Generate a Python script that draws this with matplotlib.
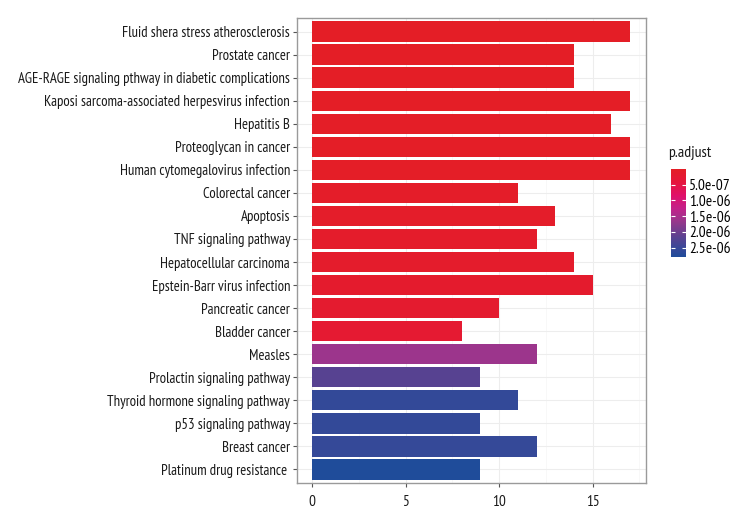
import numpy as np
import matplotlib
matplotlib.use("Agg")
import matplotlib.pyplot as plt
from matplotlib.colors import LinearSegmentedColormap, Normalize
from matplotlib.colorbar import ColorbarBase
from matplotlib import font_manager as fm

# ---------------- data ----------------
pathways = [
    "Fluid shera stress atherosclerosis",
    "Prostate cancer",
    "AGE-RAGE signaling pthway in diabetic complications",
    "Kaposi sarcoma-associated herpesvirus infection",
    "Hepatitis B",
    "Proteoglycan in cancer",
    "Human cytomegalovirus infection",
    "Colorectal cancer",
    "Apoptosis",
    "TNF signaling pathway",
    "Hepatocellular carcinoma",
    "Epstein-Barr virus infection",
    "Pancreatic cancer",
    "Bladder cancer",
    "Measles",
    "Prolactin signaling pathway",
    "Thyroid hormone signaling pathway",
    "p53 signaling pathway",
    "Breast cancer",
    "Platinum drug resistance ",
]
counts = [17, 14, 14, 17, 16, 17, 17, 11, 13, 12, 14, 15, 10, 8, 12, 9, 11, 9, 12, 9]
p_adjust = [1e-9, 5e-9, 8e-9, 1e-8, 1.5e-8, 2e-8, 3e-8, 6e-8, 8e-8, 1e-7,
            1.2e-7, 1.4e-7, 1.8e-7, 2.4e-7, 1.63e-6, 2.2e-6, 2.58e-6, 2.58e-6,
            2.55e-6, 2.8e-6]
x_ticks = [0, 5, 10, 15]
cbar_ticks = [5e-7, 1e-6, 1.5e-6, 2e-6, 2.5e-6]
cbar_labels = ["5.0e-07", "1.0e-06", "1.5e-06", "2.0e-06", "2.5e-06"]

# ---------------- fonts ----------------
avail = {f.name for f in fm.fontManager.ttflist}
prefs = ["PT Sans Narrow", "Pragati Narrow", "Roboto Condensed", "DejaVu Sans"]
fams = [f for f in prefs if f in avail]
plt.rcParams["font.family"] = fams[:1] + ["DejaVu Sans"]
FS = 10.6

# ---------------- colour scale ----------------
grad = LinearSegmentedColormap.from_list("padj", [
    (0.00, "#E41E26"),
    (0.15, "#E5163C"),
    (0.30, "#E0106A"),
    (0.45, "#C2228A"),
    (0.60, "#96388C"),
    (0.75, "#62408F"),
    (0.90, "#384898"),
    (1.00, "#1F4C9A"),
])
norm = Normalize(vmin=min(p_adjust), vmax=max(p_adjust))

# ---------------- figure ----------------
fig = plt.figure(figsize=(7.5, 5.25), dpi=100)
ax = fig.add_axes([297 / 750, 1 - 483 / 525, (646 - 297) / 750, (483 - 18) / 525])

n = len(pathways)
ypos = np.arange(n)[::-1]
ax.barh(ypos, counts, height=0.9, color=grad(norm(np.array(p_adjust))),
        edgecolor="none", zorder=3)

ax.set_xlim(-0.8, 17.85)
ax.set_ylim(-0.6, n - 0.4)
ax.set_yticks(ypos)
ax.set_yticklabels(pathways, fontsize=FS, color="#1a1a1a")
ax.set_xticks(x_ticks)
ax.set_xticklabels([str(v) for v in x_ticks], fontsize=FS + 0.4, color="#1a1a1a")
ax.set_xticks([2.5, 7.5, 12.5, 17.5], minor=True)
ax.grid(True, which="major", color="#EDEDED", linewidth=0.8, zorder=0)
ax.grid(True, which="minor", axis="x", color="#F5F5F5", linewidth=0.5, zorder=0)
ax.tick_params(axis="both", which="major", length=3, color="#555555", width=0.8, pad=2)
ax.tick_params(axis="x", which="minor", length=0)
ax.tick_params(axis="x", pad=6)
for sp in ax.spines.values():
    sp.set_color("#9A9A9A")
    sp.set_linewidth(1.0)

# ---------------- colorbar ----------------
cax = fig.add_axes([671 / 750, 1 - 257 / 525, 15 / 750, 88 / 525])
cb = ColorbarBase(cax, cmap=grad, norm=norm, orientation="vertical")
cb.outline.set_visible(False)
cax.invert_yaxis()
cb.set_ticks(cbar_ticks)
cb.set_ticklabels(cbar_labels)
cax.tick_params(axis="y", direction="in", length=3, color="white", width=0.8,
                left=True, right=True, labelleft=False, labelright=True,
                labelsize=FS + 0.6, pad=2)
fig.text(668 / 750, 1 - 153 / 525, "p.adjust", fontsize=FS + 0.8, ha="left", va="center",
         color="#1a1a1a")

fig.savefig("out.png", dpi=100)
